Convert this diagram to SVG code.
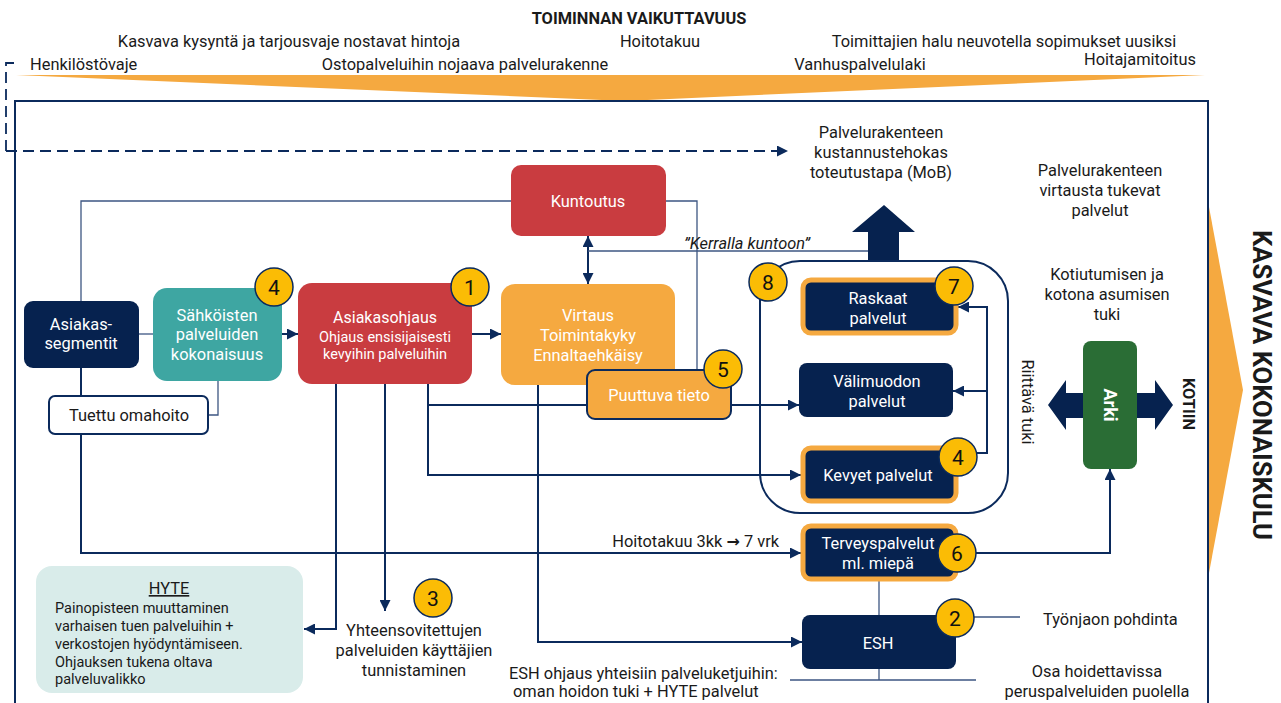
<svg xmlns="http://www.w3.org/2000/svg" width="1281" height="703" viewBox="0 0 1281 703">
<defs>
<marker id="arr" viewBox="0 0 10 10" refX="10" refY="5" markerWidth="11" markerHeight="11" markerUnits="userSpaceOnUse" orient="auto-start-reverse"><path d="M0,0 L10,5 L0,10 z" fill="#0b2a5c"/></marker>
<style>
text{font-family:Roboto,"Liberation Sans",sans-serif;font-size:16.4px;fill:#1a1a1a}
.w{fill:#ffffff}
.c{text-anchor:middle}
.b{font-weight:bold}
.s{font-size:14.5px}
.num{font-size:21px;text-anchor:middle;fill:#111}
.ln{fill:none;stroke:#0b2a5c;stroke-width:2}
.th{fill:none;stroke:#3d5682;stroke-width:1.3}
.navy{fill:#06224f}
.badge{fill:#fbbc05;stroke:#0b2a5c;stroke-width:1.5}
.ob{fill:#06224f;stroke:#f5a940;stroke-width:5}
</style>
</defs>

<!-- banner -->
<g id="banner">
<polygon points="16,75 1205,75 625,101" fill="#f5a940"/>
<polygon points="1209,207 1243,390 1209,573" fill="#f5a940"/>
<text x="639" y="24" class="c b">TOIMINNAN VAIKUTTAVUUS</text>
<text x="289" y="46.5" class="c">Kasvava kysyntä ja tarjousvaje nostavat hintoja</text>
<text x="660" y="46.5" class="c">Hoitotakuu</text>
<text x="1004" y="46.5" class="c">Toimittajien halu neuvotella sopimukset uusiksi</text>
<text x="30" y="69.5">Henkilöstövaje</text>
<text x="465" y="69.5" class="c">Ostopalveluihin nojaava palvelurakenne</text>
<text x="860" y="69.5" class="c">Vanhuspalvelulaki</text>
<text x="1140" y="65" class="c">Hoitajamitoitus</text>
<text transform="translate(1262,385) rotate(90)" y="9" class="c b" style="font-size:25px" textLength="310" lengthAdjust="spacingAndGlyphs">KASVAVA KOKONAISKULU</text>
</g>

<rect id="frame" x="15" y="101" width="1193" height="700" fill="none" stroke="#0b2a5c" stroke-width="2"/>

<!-- connectors -->
<g id="connectors">
<path d="M6,151 V63 H16" fill="none" stroke="#0b2a5c" stroke-width="1.8" stroke-dasharray="11 6"/>
<path d="M6,151 H788" fill="none" stroke="#0b2a5c" stroke-width="1.8" stroke-dasharray="11 6" marker-end="url(#arr)"/>
<path class="th" d="M81,301 V201 H511"/>
<path class="th" d="M666,201 H697 V370"/>
<path class="th" d="M139,334 H153"/>
<path class="ln" d="M282,334 H298" marker-end="url(#arr)"/>
<path class="ln" d="M472,334 H501" marker-end="url(#arr)"/>
<path class="th" d="M218,381 V415 H208"/>
<path class="ln" d="M81,368 V396"/>
<path class="ln" d="M81,434 V553 H801" marker-end="url(#arr)"/>
<path class="ln" d="M336,384 V629 H304" marker-end="url(#arr)"/>
<path class="ln" d="M385,384 V611" marker-end="url(#arr)"/>
<path class="ln" d="M428,384 V475 H801" marker-end="url(#arr)"/>
<path class="ln" d="M428,405 H799" marker-end="url(#arr)"/>
<path class="ln" d="M538,385 V642 H802" marker-end="url(#arr)"/>
<path class="ln" d="M588,236 V284" marker-start="url(#arr)" marker-end="url(#arr)"/>
<path class="th" d="M588,251 H868"/>
<polygon points="868,261 868,232 852,232 884,205 915,232 899,232 899,261" fill="#06224f"/>
<path class="ln" d="M977,453 H987 V307 H958" marker-end="url(#arr)"/>
<path class="ln" d="M987,391 H953" marker-end="url(#arr)"/>
<path class="ln" d="M976,553 H1110 V469" marker-end="url(#arr)"/>
<path class="th" d="M879,581 V615"/>
<path class="th" d="M879,669 V680 M790,680 H976"/>
<path class="th" d="M974,617 H1020"/>
<polygon points="1048,405 1066,380 1066,393 1155,393 1155,380 1173,405 1155,430 1155,418 1066,418 1066,430" fill="#06224f"/>
<text x="747" y="249" class="c" style="font-style:italic">”Kerralla kuntoon”</text>
<text x="779" y="547" style="text-anchor:end">Hoitotakuu 3kk <tspan style="font-family:'DejaVu Sans',sans-serif;font-weight:bold;font-size:16px">→</tspan> 7 vrk</text>
</g>

<!-- nodes -->
<g id="asiakassegmentit">
<rect x="24" y="301" width="115" height="67" rx="9" class="navy"/>
<text x="81" y="330" class="c w">Asiakas-</text>
<text x="81" y="349" class="c w">segmentit</text>
</g>
<g id="sahkoiset">
<rect x="153" y="288" width="129" height="93" rx="14" fill="#3ea6a2"/>
<text x="217" y="321" class="c w">Sähköisten</text>
<text x="217" y="340" class="c w">palveluiden</text>
<text x="217" y="360" class="c w">kokonaisuus</text>
</g>
<g id="tuettu">
<rect x="49" y="396" width="159" height="38" rx="6" fill="#fff" stroke="#0b2a5c" stroke-width="2"/>
<text x="129" y="421" class="c">Tuettu omahoito</text>
</g>
<g id="asiakasohjaus">
<rect x="298" y="283" width="174" height="101" rx="14" fill="#c93c40"/>
<text x="385" y="323" class="c w" style="font-size:16px">Asiakasohjaus</text>
<text x="385" y="342" class="c w s">Ohjaus ensisijaisesti</text>
<text x="385" y="358.5" class="c w s">kevyihin palveluihin</text>
</g>
<g id="kuntoutus">
<rect x="511" y="165" width="155" height="71" rx="10" fill="#c93c40"/>
<text x="588" y="207" class="c w">Kuntoutus</text>
</g>
<g id="virtaus">
<rect x="501" y="284" width="174" height="101" rx="14" fill="#f5a940"/>
<text x="588" y="321" class="c w">Virtaus</text>
<text x="588" y="341" class="c w">Toimintakyky</text>
<text x="588" y="361" class="c w">Ennaltaehkäisy</text>
</g>
<g id="puuttuva">
<rect x="587" y="370" width="144" height="49" rx="8" fill="#f5a940" stroke="#0b2a5c" stroke-width="2"/>
<text x="659" y="401" class="c w">Puuttuva tieto</text>
</g>
<g id="palvelut">
<rect x="760" y="261" width="248" height="252" rx="40" fill="none" stroke="#0b2a5c" stroke-width="2"/>
</g>
<g id="raskaat">
<rect x="803" y="280" width="153" height="53" rx="8" class="ob"/>
<text x="878" y="304" class="c w">Raskaat</text>
<text x="878" y="324" class="c w">palvelut</text>
</g>
<g id="valimuodon">
<rect x="799" y="363" width="154" height="54" rx="8" class="navy"/>
<text x="877" y="387" class="c w">Välimuodon</text>
<text x="877" y="407" class="c w">palvelut</text>
</g>
<g id="kevyet">
<rect x="803" y="448" width="153" height="53" rx="8" class="ob"/>
<text x="878" y="481" class="c w">Kevyet palvelut</text>
</g>
<g id="terveys">
<rect x="803" y="526" width="153" height="53" rx="8" class="ob"/>
<text x="878" y="549" class="c w">Terveyspalvelut</text>
<text x="878" y="569" class="c w">ml. miepä</text>
</g>
<g id="esh">
<rect x="802" y="615" width="154" height="54" rx="8" class="navy"/>
<text x="878" y="649" class="c w">ESH</text>
</g>
<g id="arki">
<rect x="1083" y="341" width="54" height="128" rx="8" fill="#2a6d35"/>
<text transform="translate(1110,405) rotate(90)" y="6.4" class="c w b" style="font-size:18px">Arki</text>
</g>
<g id="hyte">
<rect x="36" y="566" width="267" height="127" rx="16" fill="#d9ecea"/>
<text x="169" y="594" class="c" style="text-decoration:underline">HYTE</text>
<text x="55" y="613" class="s">Painopisteen muuttaminen</text>
<text x="55" y="631" class="s">varhaisen tuen palveluihin +</text>
<text x="55" y="649" class="s">verkostojen hyödyntämiseen.</text>
<text x="55" y="667" class="s">Ohjauksen tukena oltava</text>
<text x="55" y="684" class="s">palveluvalikko</text>
</g>

<!-- labels -->
<g id="labels">
<text x="881" y="138" class="c">Palvelurakenteen</text>
<text x="881" y="158" class="c">kustannustehokas</text>
<text x="881" y="178" class="c">toteutustapa (MoB)</text>
<text x="1100" y="176" class="c">Palvelurakenteen</text>
<text x="1100" y="196" class="c">virtausta tukevat</text>
<text x="1100" y="216" class="c">palvelut</text>
<text x="1107" y="280" class="c">Kotiutumisen ja</text>
<text x="1107" y="300" class="c">kotona asumisen</text>
<text x="1107" y="320" class="c">tuki</text>
<text transform="translate(1028,402) rotate(90)" y="5.7" class="c">Riittävä tuki</text>
<text transform="translate(1189,404) rotate(90)" y="5.7" class="c b">KOTIIN</text>
<text x="414" y="636" class="c">Yhteensovitettujen</text>
<text x="414" y="656" class="c">palveluiden käyttäjien</text>
<text x="414" y="676" class="c">tunnistaminen</text>
<text x="509" y="679">ESH ohjaus yhteisiin palveluketjuihin:</text>
<text x="513" y="697">oman hoidon tuki + HYTE palvelut</text>
<text x="1043" y="625">Työnjaon pohdinta</text>
<text x="1097" y="677" class="c">Osa hoidettavissa</text>
<text x="1097" y="697" class="c">peruspalveluiden puolella</text>
</g>

<!-- badges -->
<g id="badges">
<g id="b1"><circle cx="470" cy="287" r="19" class="badge"/><text x="470" y="294.5" class="num">1</text></g>
<g id="b2"><circle cx="955" cy="618" r="19" class="badge"/><text x="955" y="625.5" class="num">2</text></g>
<g id="b3"><circle cx="433" cy="598" r="19" class="badge"/><text x="433" y="605.5" class="num">3</text></g>
<g id="b4a"><circle cx="274" cy="287" r="19" class="badge"/><text x="274" y="294.5" class="num">4</text></g>
<g id="b4b"><circle cx="958" cy="457" r="19" class="badge"/><text x="958" y="464.5" class="num">4</text></g>
<g id="b5"><circle cx="723" cy="369" r="19" class="badge"/><text x="723" y="376.5" class="num">5</text></g>
<g id="b6"><circle cx="957" cy="553" r="19" class="badge"/><text x="957" y="560.5" class="num">6</text></g>
<g id="b7"><circle cx="954" cy="286" r="19" class="badge"/><text x="954" y="293.5" class="num">7</text></g>
<g id="b8"><circle cx="768" cy="282" r="19" class="badge"/><text x="768" y="289.5" class="num">8</text></g>
</g>
</svg>
